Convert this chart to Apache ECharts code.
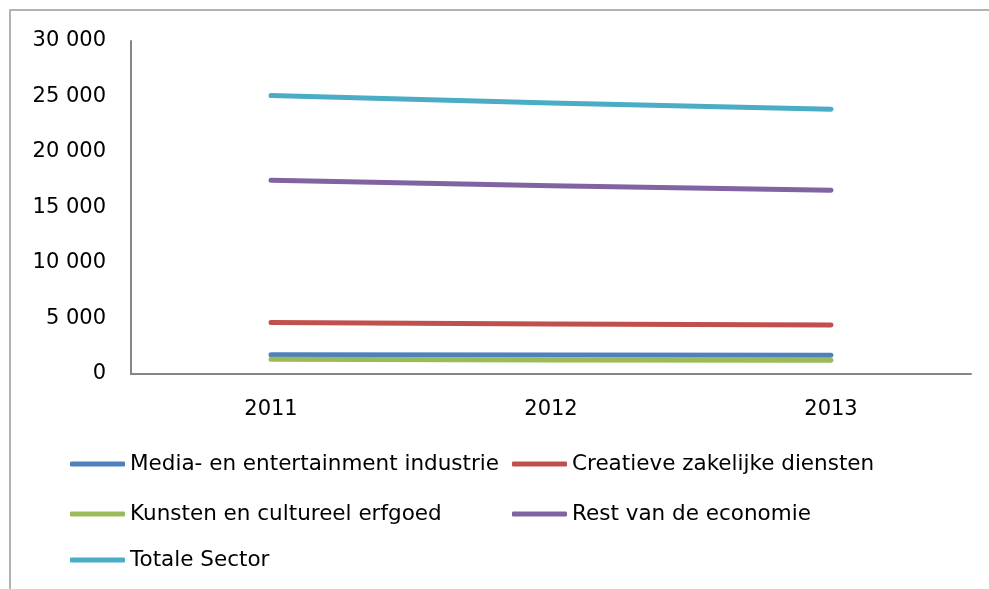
<!DOCTYPE html>
<html>
<head>
<meta charset="utf-8">
<script src="https://cdn.jsdelivr.net/npm/echarts@6/dist/echarts.min.js"></script>
<style>
  html, body { margin: 0; padding: 0; background: #ffffff; }
  #chart { width: 989px; height: 589px; }
</style>
</head>
<body>
<div id="chart"></div>
<script>
// Years on the category axis
var years = ['2011', '2012', '2013'];

// Series names
var seriesNames = [
  'Media- en entertainment industrie',
  'Creatieve zakelijke diensten',
  'Kunsten en cultureel erfgoed',
  'Rest van de economie',
  'Totale Sector'
];

// Values per series
var media = [1730, 1710, 1690];
var creatieve = [4630, 4500, 4420];
var kunsten = [1320, 1270, 1230];
var rest = [17450, 16970, 16550];
var totaal = [25080, 24410, 23850];

// Value axis range
var yMin = 0;
var yMax = 30000;
var yStep = 5000;

var values = [media, creatieve, kunsten, rest, totaal];
var colors = ['#4f81bd', '#c0504d', '#9bbb59', '#8064a2', '#4bacc6'];

var FONT = 'DejaVu Sans';

function fmt(v) {
  return String(v).replace(/\B(?=(\d{3})+(?!\d))/g, ' ');
}

// Legend entries laid out as a two-column grid
var legendSlots = [
  { left: 70, top: 464 },
  { left: 512, top: 464 },
  { left: 70, top: 514 },
  { left: 512, top: 514 },
  { left: 70, top: 560 }
];

var legends = seriesNames.map(function (name, i) {
  return {
    data: [name],
    left: legendSlots[i].left,
    top: legendSlots[i].top - 12,
    padding: 0,
    itemWidth: 55,
    itemHeight: 5,
    icon: 'roundRect',
    selectedMode: false,
    textStyle: { fontFamily: FONT, fontSize: 21.5, color: '#000000', lineHeight: 24 }
  };
});

var series = seriesNames.map(function (name, i) {
  return {
    name: name,
    type: 'line',
    data: values[i],
    symbol: 'none',
    smooth: false,
    color: colors[i],
    lineStyle: { width: 5, color: colors[i], cap: 'round', join: 'round' },
    itemStyle: { color: colors[i] },
    emphasis: { disabled: true },
    animation: false
  };
});

var chart = echarts.init(document.getElementById('chart'), null, { renderer: 'canvas' });
chart.setOption({
  backgroundColor: '#ffffff',
  animation: false,
  grid: { left: 131, top: 41, right: 18, bottom: 215, containLabel: false },
  xAxis: {
    type: 'category',
    data: years,
    boundaryGap: true,
    axisLine: { show: true, lineStyle: { color: '#868686', width: 2 } },
    axisTick: { show: false },
    axisLabel: { fontFamily: FONT, fontSize: 21, color: '#000000', margin: 25 },
    splitLine: { show: false }
  },
  yAxis: {
    type: 'value',
    min: yMin,
    max: yMax,
    interval: yStep,
    axisLine: { show: true, lineStyle: { color: '#868686', width: 2 } },
    axisTick: { show: false },
    axisLabel: {
      fontFamily: FONT, fontSize: 21, color: '#000000', margin: 25,
      formatter: function (v) { return fmt(v); }
    },
    splitLine: { show: false }
  },
  legend: legends,
  graphic: [{
    type: 'rect',
    shape: { x: 10, y: 10, width: 1200, height: 1200 },
    style: { fill: 'none', stroke: '#9a9a9a', lineWidth: 1.5 },
    silent: true
  }],
  series: series
});
</script>
</body>
</html>
